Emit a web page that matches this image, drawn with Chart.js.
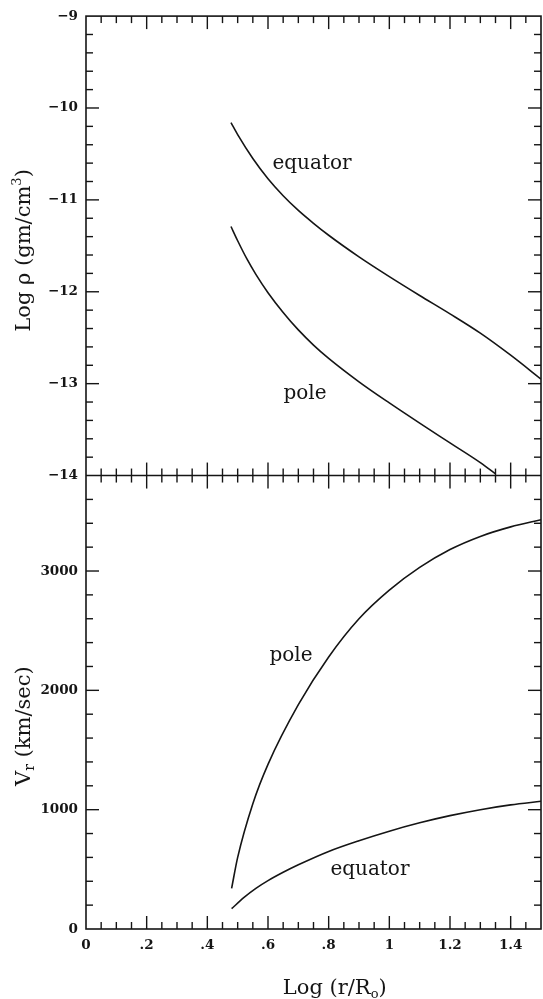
<!DOCTYPE html>
<html><head><meta charset="utf-8">
<script src="https://cdn.jsdelivr.net/npm/chart.js@4.4.1/dist/chart.umd.min.js"></script>
<style>html,body{margin:0;padding:0;background:#fff;}canvas{display:block;}</style>
</head><body>
<canvas id="c" width="543" height="999"></canvas>
<script>
// ---- tick labels ----
const X_TICKS = [0, 0.2, 0.4, 0.6, 0.8, 1.0, 1.2, 1.4];
const RHO_TICKS = [-14, -13, -12, -11, -10, -9];
const V_TICKS = [0, 1000, 2000, 3000];

// ---- top panel: Log rho (gm/cm^3) vs Log(r/Ro) ----
const xRhoEquator = [0.478, 0.50, 0.55, 0.60, 0.65, 0.70, 0.75, 0.80, 0.90, 1.00, 1.10, 1.20, 1.30, 1.40, 1.50];
const rhoEquator  = [-10.16, -10.29, -10.55, -10.77, -10.955, -11.115, -11.255, -11.385, -11.62, -11.835, -12.04, -12.24, -12.45, -12.69, -12.95];
const xRhoPole = [0.478, 0.50, 0.53, 0.56, 0.60, 0.65, 0.70, 0.75, 0.80, 0.90, 1.00, 1.10, 1.20, 1.30, 1.349];
const rhoPole  = [-11.29, -11.445, -11.64, -11.81, -12.01, -12.225, -12.415, -12.58, -12.725, -12.98, -13.21, -13.43, -13.645, -13.86, -13.98];

// ---- bottom panel: Vr (km/sec) vs Log(r/Ro) ----
const xVPole = [0.48, 0.50, 0.55, 0.60, 0.70, 0.80, 0.90, 1.00, 1.10, 1.20, 1.30, 1.40, 1.50];
const vPole  = [340, 600, 1050, 1380, 1880, 2280, 2600, 2840, 3030, 3180, 3290, 3370, 3430];
const xVEquator = [0.48, 0.52, 0.56, 0.60, 0.65, 0.70, 0.80, 0.90, 1.00, 1.10, 1.20, 1.30, 1.40, 1.50];
const vEquator  = [170, 262, 340, 405, 475, 538, 650, 740, 820, 890, 950, 1000, 1040, 1070];

// ---- curve annotations ----
const rhoNotes = ['equator', 'pole'];
const rhoNoteX = [0.745, 0.722];
const rhoNoteY = [-10.61, -13.11];
const vNotes = ['pole', 'equator'];
const vNoteX = [0.676, 0.936];
const vNoteY = [2290, 500];

const INK = '#151515';
const SERIF = '"DejaVu Serif", "Liberation Serif", serif';

function fmtX(v) {
  if (Math.abs(v) < 1e-9) return '0';
  return String(+v.toFixed(1)).replace(/^0\./, '.');
}
function fmtSigned(v) { return v < 0 ? '\u2212' + Math.abs(v) : String(v); }

function pts(xs, ys) { return xs.map((x, i) => ({x: x, y: ys[i]})); }

function drawRich(ctx, parts, cx, cy, rot) {
  ctx.save();
  ctx.translate(cx, cy);
  ctx.rotate(rot);
  let w = 0;
  parts.forEach(p => { ctx.font = p.size + 'px ' + SERIF; p.w = ctx.measureText(p.t).width; w += p.w; });
  let x = -w / 2;
  ctx.textBaseline = 'alphabetic';
  ctx.textAlign = 'left';
  parts.forEach(p => {
    ctx.font = p.size + 'px ' + SERIF;
    ctx.fillText(p.t, x, 7 + (p.dy || 0));
    x += p.w;
  });
  ctx.restore();
}

const framePlugin = {
  id: 'frame',
  afterDatasetsDraw(chart) {
    const ctx = chart.ctx;
    const a = chart.chartArea;
    const x = chart.scales.x, yR = chart.scales.yR, yV = chart.scales.yV;
    const mid = yR.bottom;
    ctx.save();
    ctx.strokeStyle = INK;
    ctx.fillStyle = INK;
    ctx.lineWidth = 1.6;
    const line = (x1, y1, x2, y2) => { ctx.beginPath(); ctx.moveTo(x1, y1); ctx.lineTo(x2, y2); ctx.stroke(); };
    ctx.strokeRect(a.left, a.top, a.right - a.left, a.bottom - a.top);
    line(a.left, mid, a.right, mid);
    ctx.lineWidth = 1.4;
    // x ticks: minor every 0.05, major every 0.2
    for (let i = 1; i < 30; i++) {
      const px = x.getPixelForValue(i * 0.05);
      const L = (i % 4 === 0) ? 13 : 7;
      line(px, a.top, px, a.top + L);
      line(px, mid - L, px, mid + L);
      line(px, a.bottom - L, px, a.bottom);
    }
    // top panel y ticks: minor 0.2, major 1
    for (let i = 1; i < 25; i++) {
      const py = yR.getPixelForValue(-14 + i * 0.2);
      const L = (i % 5 === 0) ? 13 : 7;
      line(a.left, py, a.left + L, py);
      line(a.right - L, py, a.right, py);
    }
    // bottom panel y ticks: minor 200, major 1000
    for (let i = 1; i < 19; i++) {
      const py = yV.getPixelForValue(i * 200);
      const L = (i % 5 === 0) ? 13 : 7;
      line(a.left, py, a.left + L, py);
      line(a.right - L, py, a.right, py);
    }
    // annotations
    ctx.font = '20px ' + SERIF;
    ctx.textAlign = 'center';
    ctx.textBaseline = 'middle';
    rhoNotes.forEach((t, i) => ctx.fillText(t, x.getPixelForValue(rhoNoteX[i]), yR.getPixelForValue(rhoNoteY[i])));
    vNotes.forEach((t, i) => ctx.fillText(t, x.getPixelForValue(vNoteX[i]), yV.getPixelForValue(vNoteY[i])));
    // axis titles
    drawRich(ctx, [{t: 'Log \u03c1 (gm/cm', size: 21}, {t: '3', size: 13, dy: -9}, {t: ')', size: 21}],
      23, yR.getPixelForValue(-11.55), -Math.PI / 2);
    drawRich(ctx, [{t: 'V', size: 21}, {t: 'r', size: 14, dy: 4}, {t: ' (km/sec)', size: 21}],
      23, yV.getPixelForValue(1700), -Math.PI / 2);
    drawRich(ctx, [{t: 'Log (r/R', size: 21}, {t: 'o', size: 13, dy: 4}, {t: ')', size: 21}],
      x.getPixelForValue(0.82), a.bottom + 58, 0);
    ctx.restore();
  }
};

const lineStyle = {borderColor: INK, borderWidth: 1.6, pointRadius: 0, fill: false, cubicInterpolationMode: 'monotone'};
const tickFont = {family: SERIF, weight: 'bold', size: 13.5};
const noGrid = {display: false, drawTicks: false};

new Chart(document.getElementById('c').getContext('2d'), {
  type: 'line',
  data: {
    datasets: [
      Object.assign({label: 'rho equator', data: pts(xRhoEquator, rhoEquator), yAxisID: 'yR'}, lineStyle),
      Object.assign({label: 'rho pole', data: pts(xRhoPole, rhoPole), yAxisID: 'yR'}, lineStyle),
      Object.assign({label: 'v pole', data: pts(xVPole, vPole), yAxisID: 'yV'}, lineStyle),
      Object.assign({label: 'v equator', data: pts(xVEquator, vEquator), yAxisID: 'yV'}, lineStyle)
    ]
  },
  options: {
    responsive: false, animation: false, devicePixelRatio: 1,
    layout: {padding: {top: 15, right: 2, left: 0, bottom: 0}},
    plugins: {legend: {display: false}, tooltip: {enabled: false}},
    scales: {
      x: {
        type: 'linear', min: 0, max: 1.5,
        grid: noGrid, border: {display: false},
        afterBuildTicks: s => { s.ticks = X_TICKS.map(v => ({value: v})); },
        ticks: {padding: 8, color: INK, font: tickFont, maxRotation: 0, autoSkip: false, callback: v => fmtX(v)},
        afterFit: s => { s.height = 70; }
      },
      yV: {
        type: 'linear', position: 'left', stack: 'panels', stackWeight: 454, min: 0, max: 3800,
        grid: noGrid, border: {display: false},
        afterBuildTicks: s => { s.ticks = V_TICKS.map(v => ({value: v})); },
        ticks: {padding: 8, color: INK, font: tickFont, autoSkip: false, callback: v => fmtSigned(v)},
        afterFit: s => { s.width = 86; }
      },
      yR: {
        type: 'linear', position: 'left', stack: 'panels', stackWeight: 460, min: -14, max: -9,
        grid: noGrid, border: {display: false},
        afterBuildTicks: s => { s.ticks = RHO_TICKS.map(v => ({value: v})); },
        ticks: {padding: 8, color: INK, font: tickFont, autoSkip: false, callback: v => fmtSigned(v)},
        afterFit: s => { s.width = 86; }
      }
    }
  },
  plugins: [framePlugin]
});
</script>
</body></html>
